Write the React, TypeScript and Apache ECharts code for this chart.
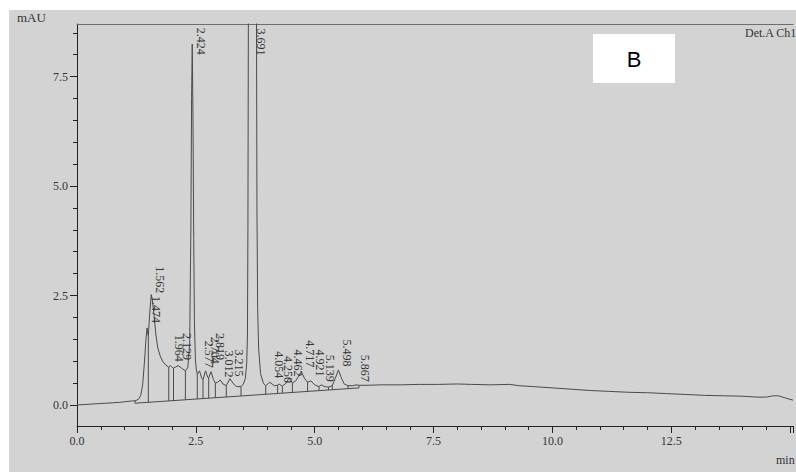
import { useEffect, useRef } from "react";
import * as echarts from "echarts";

// chromatogram trace: [time (min), absorbance (mAU)]
const trace: [number, number][] = [
  [0, 0.0], [0.15, 0.01], [0.3, 0.02], [0.45, 0.03], [0.6, 0.04], [0.75, 0.05], [0.9, 0.06],
  [1.05, 0.08], [1.15, 0.09], [1.24, 0.1], [1.3, 0.14], [1.34, 0.22], [1.38, 0.45], [1.42, 1.0],
  [1.45, 1.5], [1.474, 1.76], [1.49, 1.62], [1.5, 1.58], [1.53, 2.1], [1.562, 2.52], [1.59, 2.35],
  [1.62, 2.05], [1.66, 1.6], [1.7, 1.3], [1.75, 1.12], [1.8, 1.0], [1.86, 0.92], [1.93, 0.86],
  [1.964, 0.9], [2.0, 0.86], [2.03, 0.84], [2.08, 0.87], [2.129, 0.9], [2.2, 0.84], [2.28, 0.78],
  [2.33, 0.85], [2.37, 1.4], [2.395, 4.0], [2.41, 7.0], [2.424, 8.24], [2.44, 6.5], [2.455, 3.8],
  [2.47, 1.9], [2.49, 1.05], [2.51, 0.8], [2.53, 0.7], [2.577, 0.78], [2.62, 0.62], [2.65, 0.58],
  [2.704, 0.78], [2.75, 0.63], [2.77, 0.62], [2.819, 0.76], [2.87, 0.58], [2.91, 0.5], [2.96, 0.52],
  [3.012, 0.57], [3.07, 0.48], [3.14, 0.44], [3.215, 0.6], [3.28, 0.5], [3.35, 0.42], [3.45, 0.42],
  [3.5, 0.48], [3.54, 0.6], [3.57, 0.95], [3.585, 1.6], [3.595, 4], [3.605, 9], [3.63, 22],
  [3.66, 42], [3.691, 55], [3.72, 42], [3.75, 22], [3.775, 9], [3.785, 4.5], [3.8, 2.2],
  [3.82, 1.3], [3.86, 0.72], [3.92, 0.5], [3.97, 0.44], [4.054, 0.52], [4.15, 0.44], [4.22, 0.45],
  [4.25, 0.48], [4.32, 0.43], [4.4, 0.5], [4.462, 0.62], [4.53, 0.5], [4.6, 0.55], [4.717, 0.76],
  [4.79, 0.6], [4.85, 0.52], [4.921, 0.55], [5.0, 0.46], [5.09, 0.42], [5.139, 0.46], [5.2, 0.42],
  [5.29, 0.41], [5.37, 0.44], [5.43, 0.6], [5.498, 0.8], [5.56, 0.62], [5.62, 0.48], [5.7, 0.44],
  [5.8, 0.44], [5.867, 0.46], [5.93, 0.45], [6.1, 0.45], [6.4, 0.46], [6.8, 0.46], [7.2, 0.47],
  [7.6, 0.47], [8.0, 0.48], [8.3, 0.47], [8.7, 0.46], [9.1, 0.47], [9.3, 0.44], [9.6, 0.42],
  [10.0, 0.39], [10.4, 0.36], [10.8, 0.33], [11.2, 0.31], [11.6, 0.29], [12.0, 0.28], [12.4, 0.26],
  [12.8, 0.24], [13.2, 0.22], [13.6, 0.21], [14.0, 0.2], [14.3, 0.18], [14.5, 0.18], [14.65, 0.21],
  [14.75, 0.21], [14.9, 0.16], [15.06, 0.11],
];

// peak labels (retention times) and the height where each label ends
const peakNames = [
  "1.474", "1.562", "1.964", "2.129", "2.424", "2.577", "2.704", "2.819", "3.012", "3.215",
  "3.691", "4.054", "4.250", "4.462", "4.717", "4.921", "5.139", "5.498", "5.867",
];
const peakLabelHeights = [
  1.87, 2.55, 0.99, 1.03, 8.0, 0.85, 0.94, 1.03, 0.63, 0.65,
  7.98, 0.61, 0.5, 0.65, 0.86, 0.65, 0.53, 0.88, 0.53,
];

// integration drop lines: time, top (on trace), bottom (on baseline)
const dropTimes = [1.22, 1.5, 1.93, 2.03, 2.28, 2.53, 2.65, 2.77, 2.91, 3.14, 3.45, 3.97, 4.22, 4.32, 4.53, 4.85, 5.09, 5.29, 5.37, 5.7, 5.93];
const dropTops = [0.1, 1.58, 0.86, 0.84, 0.78, 0.7, 0.58, 0.62, 0.5, 0.44, 0.42, 0.44, 0.45, 0.43, 0.5, 0.52, 0.42, 0.41, 0.44, 0.44, 0.45];
const dropBottoms = [0.04, 0.062, 0.093, 0.1, 0.119, 0.137, 0.146, 0.155, 0.166, 0.183, 0.206, 0.244, 0.263, 0.27, 0.284, 0.31, 0.328, 0.342, 0.348, 0.371, 0.39];

// integration baseline
const integrationBaseline: [number, number][] = [[1.22, 0.04], [5.93, 0.39]];

// axis ticks
const yMajorTicks = [0, 2.5, 5, 7.5];
const yMinorTicks = [0.5, 1, 1.5, 2, 3, 3.5, 4, 4.5, 5.5, 6, 6.5, 7, 8, 8.5];

const SERIF = '"Liberation Serif", "Times New Roman", serif';
const INK = "#222";
const TRACE = "#4a4a4a";

export default function App() {
  const ref = useRef<HTMLDivElement>(null);

  useEffect(() => {
    if (!ref.current) return;
    const chart = echarts.init(ref.current, undefined, { renderer: "svg" });

    const option: any = {
      animation: false,
      backgroundColor: "transparent",
      grid: { left: 77, top: 24, right: 0, bottom: 46, show: false },
      xAxis: [
        {
          type: "value",
          position: "bottom",
          min: 0,
          max: 15.06,
          interval: 2.5,
          axisLine: { show: true, onZero: false, lineStyle: { color: INK, width: 1 } },
          axisTick: { show: true, length: 7, lineStyle: { color: INK } },
          minorTick: { show: true, splitNumber: 5, length: 4, lineStyle: { color: INK } },
          splitLine: { show: false },
          minorSplitLine: { show: false },
          axisLabel: {
            margin: 9,
            fontFamily: SERIF,
            fontSize: 12,
            color: "#333",
            formatter: (v: number) => (v > 14 ? "" : v.toFixed(1)),
          },
        },
        {
          type: "value",
          position: "top",
          min: 0,
          max: 15.06,
          axisLine: { show: true, onZero: false, lineStyle: { color: "#6e6e6e", width: 1 } },
          axisTick: { show: false },
          axisLabel: { show: false },
          splitLine: { show: false },
        },
      ],
      yAxis: [
        {
          type: "value",
          position: "left",
          min: -0.48,
          max: 8.7,
          axisLine: { show: true, onZero: false, lineStyle: { color: INK, width: 1 } },
          axisTick: { show: true, length: 7, customValues: yMajorTicks, lineStyle: { color: INK } },
          axisLabel: {
            customValues: yMajorTicks,
            margin: 9,
            fontFamily: SERIF,
            fontSize: 12,
            color: "#333",
            formatter: (v: number) => v.toFixed(1),
          },
          splitLine: { show: false },
        },
        {
          type: "value",
          position: "left",
          min: -0.48,
          max: 8.7,
          axisLine: { show: false },
          axisTick: { show: true, length: 4, customValues: yMinorTicks, lineStyle: { color: INK } },
          axisLabel: { show: false },
          splitLine: { show: false },
        },
      ],
      series: [
        {
          type: "line",
          data: trace,
          showSymbol: false,
          clip: true,
          lineStyle: { color: TRACE, width: 1 },
          z: 3,
        },
        {
          type: "line",
          data: integrationBaseline,
          showSymbol: false,
          lineStyle: { color: TRACE, width: 1 },
          z: 3,
        },
        {
          type: "custom",
          data: dropTimes.map((t, i) => [t, dropBottoms[i], dropTops[i]]),
          encode: { x: 0, y: [1, 2] },
          renderItem: (params: any, api: any) => {
            const p1 = api.coord([api.value(0), api.value(1)]);
            const p2 = api.coord([api.value(0), api.value(2)]);
            return {
              type: "line",
              shape: { x1: p1[0], y1: p1[1], x2: p2[0], y2: p2[1] },
              style: { stroke: TRACE, lineWidth: 1 },
            };
          },
          z: 3,
        },
        {
          type: "custom",
          data: peakNames.map((n, i) => [parseFloat(n), peakLabelHeights[i]]),
          encode: { x: 0, y: 1 },
          renderItem: (params: any, api: any) => {
            const p = api.coord([api.value(0), api.value(1)]);
            return {
              type: "text",
              x: p[0] + 9,
              y: p[1],
              rotation: -Math.PI / 2,
              style: {
                text: peakNames[params.dataIndex],
                fill: "#333",
                font: `12px ${SERIF}`,
                align: "right",
                verticalAlign: "middle",
              },
            };
          },
          z: 4,
        },
      ],
      graphic: [
        {
          type: "text",
          left: 17,
          top: 11,
          style: { text: "mAU", fill: "#333", font: `13px ${SERIF}` },
        },
        {
          type: "text",
          left: 745,
          top: 27,
          style: { text: "Det.A Ch1", fill: "#333", font: `12px ${SERIF}` },
        },
        {
          type: "text",
          left: 776,
          top: 454,
          style: { text: "min", fill: "#333", font: `12px ${SERIF}` },
        },
        {
          type: "group",
          left: 593,
          top: 34,
          children: [
            { type: "rect", shape: { x: 0, y: 0, width: 82, height: 49 }, style: { fill: "#ffffff" } },
            {
              type: "text",
              x: 41,
              y: 25,
              style: {
                text: "B",
                fill: "#000",
                font: '22px "Liberation Sans", Arial, sans-serif',
                align: "center",
                verticalAlign: "middle",
              },
            },
          ],
        },
      ],
    };

    chart.setOption(option);
    return () => chart.dispose();
  }, []);

  return (
    <div style={{ position: "fixed", left: 0, top: 0, width: 796, height: 472, background: "#ffffff", overflow: "hidden" }}>
      <div style={{ position: "absolute", left: 9, top: 10, right: 0, bottom: 0, background: "#d3d3d3" }} />
      <div ref={ref} style={{ position: "absolute", left: 0, top: 0, width: 796, height: 472 }} />
    </div>
  );
}
